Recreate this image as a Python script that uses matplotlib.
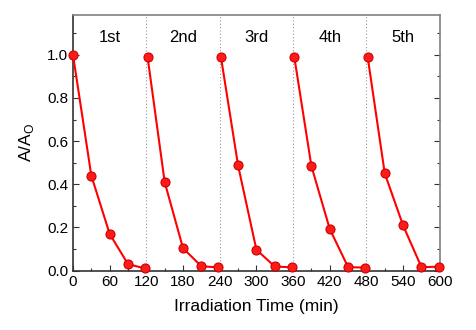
import matplotlib
matplotlib.use("Agg")
import matplotlib.pyplot as plt
from matplotlib.ticker import MultipleLocator

plt.rcParams['font.family'] = ['Liberation Sans', 'DejaVu Sans']

# Data
cycle_labels = ["1st", "2nd", "3rd", "4th", "5th"]
cycle_times = [
    [0, 30, 60, 90, 118],
    [122, 150, 180, 210, 238],
    [242, 270, 300, 330, 358],
    [362, 390, 420, 450, 478],
    [482, 510, 540, 570, 598],
]
cycle_values = [
    [1.00, 0.44, 0.17, 0.03, 0.01],
    [0.99, 0.41, 0.104, 0.02, 0.015],
    [0.99, 0.488, 0.097, 0.019, 0.015],
    [0.99, 0.484, 0.193, 0.016, 0.014],
    [0.99, 0.45, 0.209, 0.016, 0.018],
]
divider_x = [120, 240, 360, 480]
label_x = [60, 180, 300, 420, 540]
xticks = [0, 60, 120, 180, 240, 300, 360, 420, 480, 540, 600]
yticks = [0.0, 0.2, 0.4, 0.6, 0.8, 1.0]

fig = plt.figure(figsize=(4.77, 3.30), dpi=100)
ax = fig.add_axes([0.153, 0.18, 0.769, 0.775])

for xv in divider_x:
    ax.axvline(xv, color='#999999', linestyle=(0, (1, 2)), linewidth=0.8, zorder=1)

for t, v in zip(cycle_times, cycle_values):
    ax.plot(t, v, color='#ff0000', linewidth=1.5, marker='o', markersize=6.5,
            markerfacecolor='#ff1a1a', markeredgecolor='#cc0000', markeredgewidth=0.8,
            zorder=3, clip_on=False)

for lx, lab in zip(label_x, cycle_labels):
    ax.text(lx, 1.08, lab, ha='center', va='center', fontsize=12)

ax.set_xlim(0, 600)
ax.set_ylim(0, 1.185)
ax.set_xticks(xticks)
ax.set_yticks(yticks)
ax.set_yticklabels([f"{y:.1f}" for y in yticks])
ax.xaxis.set_minor_locator(MultipleLocator(30))
ax.yaxis.set_minor_locator(MultipleLocator(0.1))
ax.tick_params(which='both', direction='in', labelsize=11, top=False, right=True, color='#333333')
ax.tick_params(which='major', length=4, width=0.8)
ax.tick_params(which='minor', length=2.5, width=0.8)
ax.tick_params(axis='y', which='both', right=True)
for side in ['top', 'right']:
    ax.spines[side].set_color('#808080')
for side in ['left', 'bottom']:
    ax.spines[side].set_color('#333333')
for s in ax.spines.values():
    s.set_linewidth(1.2)

ax.set_xlabel("Irradiation Time (min)", fontsize=12.5, labelpad=7)
ax.set_ylabel("A/A$_\\mathregular{O}$", fontsize=12.5, labelpad=8)

fig.savefig("out.png", dpi=100)
